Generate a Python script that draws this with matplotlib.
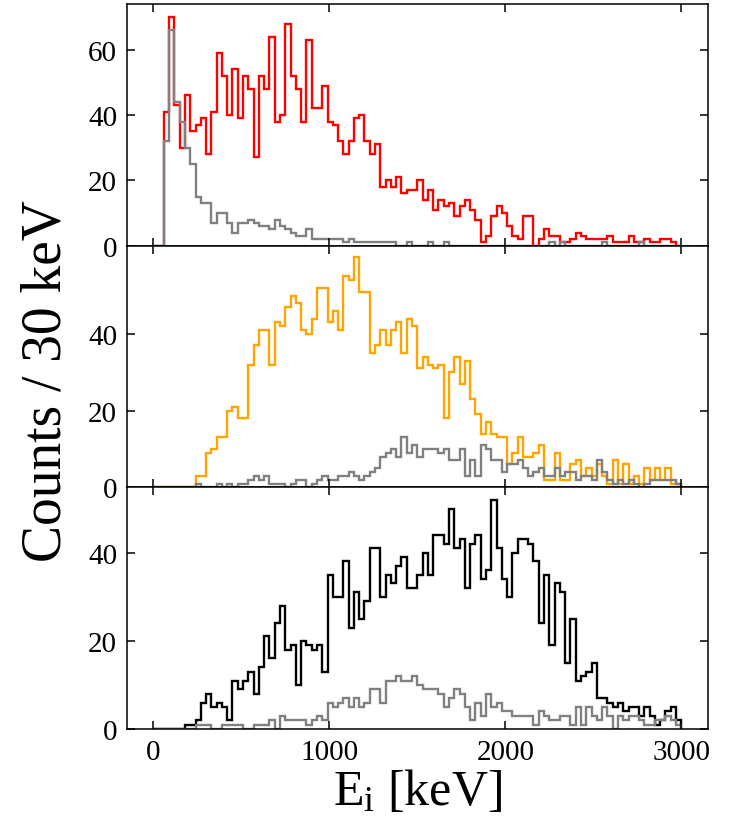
import numpy as np
import matplotlib
matplotlib.use("Agg")
import matplotlib.pyplot as plt

plt.rcParams['font.family'] = ['Liberation Serif', 'DejaVu Serif']
plt.rcParams['mathtext.fontset'] = 'custom'
plt.rcParams['mathtext.rm'] = 'Liberation Serif'
plt.rcParams['mathtext.it'] = 'Liberation Serif:italic'

bin_width = 30
e_max = 3000

red_counts = [0, 0, 41, 70, 43, 30, 46, 35, 37, 39, 28, 41, 59, 52, 40, 54, 39, 52, 48, 27,
              52, 48, 64, 38, 40, 68, 52, 48, 38, 63, 42, 42, 49, 38, 37, 32, 28, 32, 39, 40,
              32, 28, 31, 18, 20, 18, 21, 16, 17, 17, 20, 14, 17, 11, 14, 12, 13, 9, 12, 14,
              11, 8, 1, 3, 9, 12, 10, 6, 3, 2, 9, 9, 0, 2, 5, 3, 3, 1, 1, 2,
              4, 3, 2, 2, 2, 2, 3, 1, 1, 1, 3, 1, 1, 2, 1, 1, 2, 2, 1, 0]
grey1_counts = [0, 0, 32, 66, 44, 38, 30, 25, 15, 13, 13, 7, 10, 10, 7, 4, 7, 7, 8, 7,
                6, 6, 5, 8, 6, 5, 4, 3, 3, 5, 2, 2, 2, 2, 2, 2, 1, 2, 1, 1,
                1, 1, 1, 1, 1, 1, 0, 0, 1, 0, 0, 0, 1, 0, 0, 1, 0, 0, 0, 0,
                0, 0, 0, 0, 0, 0, 0, 0, 0, 0, 0, 0, 0, 0, 0, 1, 0, 1, 0, 0,
                0, 0, 0, 0, 0, 1, 0, 0, 0, 0, 0, 0, 1, 0, 0, 0, 0, 0, 0, 0]

orange_counts = [0, 0, 0, 0, 0, 0, 0, 0, 3, 3, 9, 10, 13, 13, 20, 21, 18, 18, 32, 37,
                 41, 41, 32, 43, 42, 47, 50, 48, 41, 40, 44, 52, 52, 43, 46, 41, 55, 54, 60, 51,
                 51, 35, 37, 41, 37, 41, 43, 35, 44, 42, 31, 34, 32, 31, 32, 18, 30, 34, 27, 33,
                 23, 19, 14, 17, 14, 13, 13, 6, 9, 13, 8, 8, 9, 11, 2, 2, 9, 2, 2, 6,
                 7, 3, 5, 3, 6, 3, 1, 7, 1, 6, 1, 3, 1, 5, 2, 5, 2, 5, 1, 1]
grey2_counts = [0, 0, 0, 0, 0, 0, 0, 0, 1, 0, 0, 0, 1, 0, 1, 0, 1, 1, 2, 3,
                2, 3, 1, 1, 1, 0, 1, 2, 2, 0, 1, 2, 3, 2, 2, 3, 3, 4, 3, 2,
                3, 4, 5, 8, 9, 10, 8, 13, 9, 11, 8, 10, 10, 10, 9, 10, 7, 7, 10, 3,
                7, 3, 11, 10, 7, 7, 4, 6, 6, 7, 5, 3, 4, 5, 3, 3, 5, 3, 4, 4,
                2, 3, 3, 2, 7, 4, 2, 1, 2, 1, 2, 1, 0, 1, 2, 2, 2, 2, 2, 1]

black_counts = [0, 0, 0, 0, 0, 0, 1, 1, 2, 6, 8, 5, 6, 5, 2, 11, 9, 11, 13, 8,
                14, 21, 16, 24, 28, 18, 19, 10, 20, 19, 18, 19, 13, 35, 30, 30, 38, 23, 31, 25,
                29, 41, 41, 30, 35, 33, 37, 39, 32, 32, 35, 40, 35, 44, 44, 42, 50, 41, 43, 32,
                42, 44, 34, 36, 52, 41, 34, 30, 40, 43, 43, 42, 38, 24, 35, 19, 33, 31, 15, 25,
                11, 12, 13, 15, 7, 7, 6, 5, 6, 4, 5, 5, 3, 5, 3, 1, 2, 4, 5, 2]
grey3_counts = [0, 0, 0, 0, 0, 0, 0, 0, 1, 1, 1, 0, 0, 1, 1, 1, 1, 0, 0, 1,
                1, 1, 2, 0, 3, 2, 2, 2, 2, 1, 2, 3, 2, 6, 5, 6, 7, 5, 7, 5,
                6, 9, 9, 6, 11, 11, 12, 11, 11, 12, 10, 9, 9, 9, 8, 5, 7, 9, 8, 5,
                2, 6, 3, 8, 5, 6, 4, 4, 3, 3, 3, 3, 1, 4, 3, 2, 2, 3, 3, 1,
                5, 1, 5, 3, 2, 5, 3, 0, 3, 2, 3, 3, 2, 1, 1, 2, 2, 3, 2, 1]

panels = [
    (red_counts, grey1_counts, 'red', 74.0, [0, 20, 40, 60]),
    (orange_counts, grey2_counts, 'orange', 63.0, [0, 20, 40]),
    (black_counts, grey3_counts, 'black', 54.8, [0, 20, 40]),
]
x_ticks = [0, 1000, 2000, 3000]

edges = np.arange(0, e_max + bin_width, bin_width)

fig, axes = plt.subplots(3, 1, figsize=(7.33, 8.29), dpi=100, sharex=True)
fig.subplots_adjust(left=0.1731, right=0.9655, top=0.994, bottom=0.1194, hspace=0)

for ax, (main, bg, col, top, yt) in zip(axes, panels):
    ax.stairs(main, edges, color=col, lw=1.7)
    ax.stairs(bg, edges, color='gray', lw=1.7)
    ax.set_ylim(0, top)
    ax.set_yticks(yt)
    ax.tick_params(direction='in', top=True, right=True, length=6, width=1.1,
                   labelsize=21, pad=7)
    for s in ax.spines.values():
        s.set_linewidth(1.1)

axes[-1].set_xlim(-150, 3150)
axes[-1].set_xticks(x_ticks)
axes[-1].set_xlabel(r'E$_{\mathrm{i}}$ [keV]', fontsize=36, labelpad=2)
fig.text(0.064, 0.54, 'Counts / 30 keV', rotation=90, fontsize=40,
         ha='center', va='center')

fig.savefig('out.png', dpi=100)
